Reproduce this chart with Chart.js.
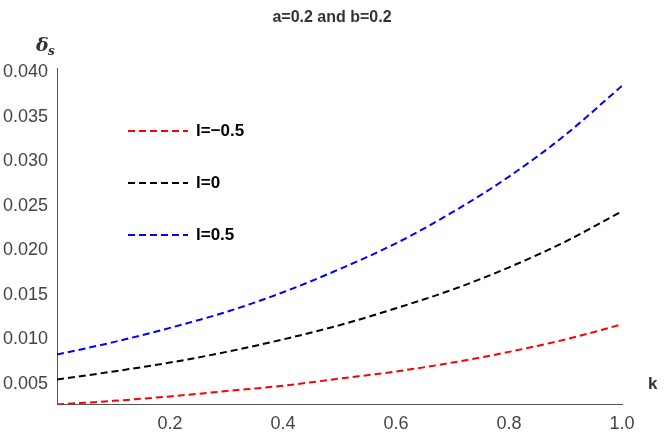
<!DOCTYPE html>
<html>
<head>
<meta charset="UTF-8">
<script src="https://cdn.jsdelivr.net/npm/chart.js"></script>
<style>
  body { margin: 0; background: #fff; }
  #wrap { width: 664px; height: 438px; }
</style>
</head>
<body>
<div id="wrap"><canvas id="myCanvas"></canvas></div>
<script>
    const kValues = [0, 0.1, 0.2, 0.3, 0.4, 0.5, 0.6, 0.7, 0.8, 0.9, 1.0];
    const redValues = [0.0027, 0.0031, 0.0036, 0.0042, 0.0048, 0.0056, 0.0064, 0.0074, 0.0086, 0.0100, 0.0117];
    const blackValues = [0.0055, 0.0064, 0.0074, 0.0086, 0.0100, 0.0116, 0.0135, 0.0156, 0.0181, 0.0210, 0.0244];
    const blueValues = [0.0083, 0.0097, 0.0113, 0.0131, 0.0153, 0.0179, 0.0208, 0.0243, 0.0283, 0.0330, 0.0385];
    const seriesNames = ["l=\u22120.5", "l=0", "l=0.5"];
    const seriesColors = ["#ff0000", "#000000", "#0000ff"];
    const yTicks = [0.005, 0.010, 0.015, 0.020, 0.025, 0.030, 0.035, 0.040];
    const xTicks = [0.2, 0.4, 0.6, 0.8, 1.0];

    function serie(values) {
        return kValues.map(function (k, i) { return { x: k, y: values[i] }; });
    }

    const allValues = [redValues, blackValues, blueValues];
    const datasets = allValues.map(function (v, i) {
        return {
            label: seriesNames[i],
            data: serie(v),
            borderColor: seriesColors[i],
            borderWidth: 2,
            borderDash: [7, 4],
            pointRadius: 0,
            cubicInterpolationMode: "monotone",
            fill: false
        };
    });

    // legenda e rótulos desenhados dentro do gráfico
    const extras = {
        id: "extras",
        afterDraw(chart) {
            const ctx = chart.ctx;
            const area = chart.chartArea;
            ctx.save();
            ctx.font = "bold 17px 'Liberation Sans', Arial, sans-serif";
            ctx.textBaseline = "middle";
            const ys = [131, 183, 235];
            seriesNames.forEach(function (n, i) {
                ctx.strokeStyle = seriesColors[i];
                ctx.lineWidth = 2;
                ctx.setLineDash([7, 4]);
                ctx.beginPath();
                ctx.moveTo(128, ys[i]);
                ctx.lineTo(188, ys[i]);
                ctx.stroke();
                ctx.fillStyle = "#000";
                ctx.fillText(n, 196, ys[i]);
            });
            ctx.setLineDash([]);
            ctx.fillStyle = "#333";
            ctx.font = "bold 16px 'Liberation Sans', Arial, sans-serif";
            ctx.textAlign = "center";
            ctx.fillText("a=0.2 and b=0.2", 332, 18);
            ctx.font = "italic bold 19px 'DejaVu Serif', serif";
            ctx.textAlign = "left";
            ctx.fillText("\u03b4", 36, 46);
            ctx.font = "italic bold 12px 'DejaVu Serif', serif";
            ctx.fillText("s", 48, 52);
            ctx.font = "bold 17px 'Liberation Sans', Arial, sans-serif";
            ctx.fillText("k", area.right + 26, area.bottom - 20);
            ctx.restore();
        }
    };

    const config = {
        type: "line",
        data: { datasets: datasets },
        options: {
            responsive: true,
            maintainAspectRatio: false,
            animation: false,
            layout: { padding: { top: 68, right: 42, left: 0, bottom: 0 } },
            scales: {
                x: {
                    type: "linear",
                    min: 0,
                    max: 1.0,
                    grid: { display: false, drawTicks: true, tickLength: 6 },
                    border: { color: "#555" },
                    afterBuildTicks: function (axis) { axis.ticks = xTicks.map(function (v) { return { value: v }; }); },
                    ticks: {
                        color: "#444",
                        font: { size: 18, family: "'Liberation Sans', Arial" },
                        callback: function (v) { return v.toFixed(1); }
                    }
                },
                y: {
                    min: 0.0027,
                    max: 0.0405,
                    grid: { display: false, drawTicks: true, tickLength: 6 },
                    border: { color: "#555" },
                    afterBuildTicks: function (axis) { axis.ticks = yTicks.map(function (v) { return { value: v }; }); },
                    ticks: {
                        color: "#444",
                        font: { size: 18, family: "'Liberation Sans', Arial" },
                        callback: function (v) { return v.toFixed(3); }
                    }
                }
            },
            plugins: {
                legend: { display: false },
                tooltip: { enabled: false }
            }
        },
        plugins: [extras]
    };

    new Chart(document.getElementById("myCanvas"), config);
</script>
</body>
</html>
